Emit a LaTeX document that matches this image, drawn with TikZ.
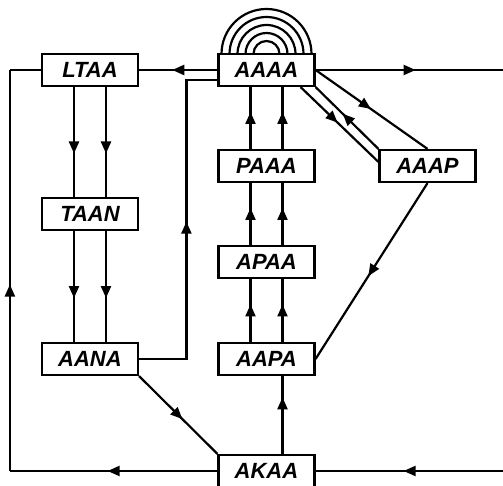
\documentclass[tikz,border=0pt]{standalone}
\usepackage{fontspec}
\setmainfont{Liberation Sans}
\usetikzlibrary{arrows.meta, positioning, calc, decorations.markings}

\begin{document}
\begin{tikzpicture}[
    x=1pt, y=1pt,
    node distance=61.8pt and 78.3pt,
    font=\fontsize{22}{24}\selectfont\bfseries\itshape,
    box/.style={draw, rectangle, line width=2.2pt, minimum width=96pt, minimum height=32pt, inner sep=0pt},
    link/.style={line width=2.2pt, line join=miter},
    flow/.style={link, postaction={decorate}, decoration={markings, mark=at position #1 with {\arrow[xshift=6pt]{Triangle[length=12pt, width=10pt]}}}},
    flow/.default=0.5
  ]
    \useasboundingbox (0,0) rectangle (503,486);
    \node[box] (aaaa) at (266.5,416) {AAAA};
    \node[box, left=of aaaa] (ltaa) {LTAA};
    \node[box, below=109.8pt of ltaa] (taan) {TAAN};
    \node[box, below=110.8pt of taan] (aana) {AANA};
    \node[box, below=of aaaa] (paaa) {PAAA};
    \node[box, below=of paaa] (apaa) {APAA};
    \node[box, below=62.8pt of apaa] (aapa) {AAPA};
    \node[box, below=77.8pt of aapa] (akaa) {AKAA};
    \node[box, right=62.8pt of paaa] (aaap) {AAAP};
    % rainbow over AAAA
    \foreach \r in {13,21,29,37,45}
      \draw[link] ($(aaaa.north)+(\r,-1.1)$) arc[start angle=0, end angle=180, radius=\r];
    % outer loop and free ends
    \coordinate (ltop) at ($(ltaa.west)+(-31,0)$);
    \coordinate (lbot) at ($(akaa.west -| ltaa.west)+(-31,0)$);
    \coordinate (rtop) at ($(aaaa.east)+(188,0)$);
    \coordinate (rbot) at ($(akaa.east)+(188,0)$);
    \coordinate (jogtop) at ($(aaaa.west)+(-31,-10)$);
    \draw[flow] (aaaa.west) -- (ltaa.east);
    \draw[flow] (akaa.west) -- (lbot);
    \draw[flow=0.45] (lbot) -- (ltop);
    \draw[link] (ltop) -- (ltaa.west);
    \draw[flow] (aaaa.east) -- (rtop);
    \draw[flow] (rbot) -- (akaa.east);
    \draw[flow] (aana.east) -| (jogtop) -- (jogtop -| aaaa.west);
    % parallel pairs
    \foreach \dx in {-16pt,16pt} {
      \draw[flow=0.55] ([xshift=\dx]ltaa.south) -- ([xshift=\dx]taan.north);
      \draw[flow=0.55] ([xshift=\dx]taan.south) -- ([xshift=\dx]aana.north);
      \draw[flow] ([xshift=\dx]aapa.north) -- ([xshift=\dx]apaa.south);
      \draw[flow] ([xshift=\dx]apaa.north) -- ([xshift=\dx]paaa.south);
      \draw[flow] ([xshift=\dx]paaa.north) -- ([xshift=\dx]aaaa.south);
    }
    \draw[flow=0.65] ([xshift=16pt]akaa.north) -- ([xshift=16pt]aapa.south);
    \draw[flow] (aana.south east) -- (akaa.north west);
    % links to AAAP
    \draw[flow=0.45] (aaaa.east) -- (aaap.north);
    \draw[flow] (aaap.north west) -- (aaaa.south east);
    \draw[flow=0.42] ([xshift=-15pt]aaaa.south east) -- ([yshift=-13pt]aaap.north west);
    \draw[flow] (aaap.south) -- (aapa.east);
  \end{tikzpicture}
\end{document}
